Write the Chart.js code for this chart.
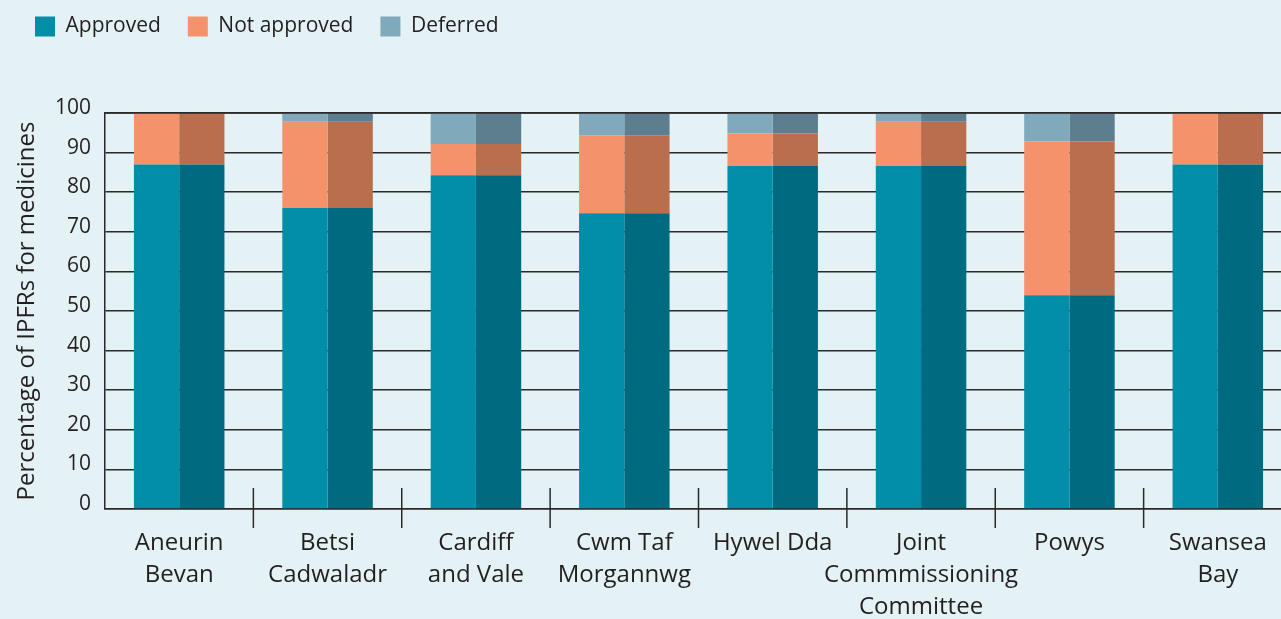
<!DOCTYPE html>
<html>
<head>
<meta charset="utf-8">
<script src="https://cdn.jsdelivr.net/npm/chart.js@4/dist/chart.umd.min.js"></script>
<style>
  html, body { margin: 0; padding: 0; background: #e4f1f5; overflow: hidden; }
  #chart { display: block; }
</style>
</head>
<body>
<canvas id="chart" width="1292" height="619" style="width:1292px;height:619px"></canvas>
<script>
// data
const categories = [
  ['Aneurin', 'Bevan'],
  ['Betsi', 'Cadwaladr'],
  ['Cardiff', 'and Vale'],
  ['Cwm Taf', 'Morgannwg'],
  ['Hywel Dda'],
  ['Joint', 'Commmissioning', 'Committee'],
  ['Powys'],
  ['Swansea', 'Bay']
];
const seriesNames = ['Approved', 'Not approved', 'Deferred'];
const approved    = [87, 76, 84.3, 74.7, 86.6, 86.6, 54, 87];
const notApproved = [13, 21.8, 7.9, 19.7, 8.2, 11.2, 38.8, 13];
const deferred    = [0, 2.2, 7.8, 5.6, 5.2, 2.2, 7.2, 0];
const yTicks = [0, 10, 20, 30, 40, 50, 60, 70, 80, 90, 100];

const lightColours = ['#028ea9', '#f4936b', '#80a9bc'];
const darkColours  = ['#006b80', '#b96e4e', '#5d7e8e'];
const INK = '#231f20';

Chart.defaults.font.family = "'Open Sans', 'Noto Sans', sans-serif";
Chart.defaults.color = INK;

// each bar is drawn as a light half and a dark half (two stacks)
const values = [approved, notApproved, deferred];
const datasets = [];
values.forEach((v, i) => {
  datasets.push({ label: seriesNames[i], data: v, backgroundColor: lightColours[i], stack: 'left' });
});
values.forEach((v, i) => {
  datasets.push({ label: seriesNames[i], data: v, backgroundColor: darkColours[i], stack: 'right' });
});

// short tick lines between the categories, and the top rule over the bars
const extrasPlugin = {
  id: 'extras',
  afterLayout(chart) {
    chart.legend.top -= 66;
    chart.legend.bottom -= 66;
  },
  afterDatasetsDraw(chart) {
    const ctx = chart.ctx;
    const x = chart.scales.x, y = chart.scales.y;
    ctx.save();
    ctx.strokeStyle = '#2a2a2a';
    ctx.lineWidth = 1.5;
    const top = y.getPixelForValue(100);
    ctx.beginPath();
    ctx.moveTo(chart.chartArea.left, top);
    ctx.lineTo(chart.chartArea.right, top);
    ctx.stroke();
    const bottom = y.getPixelForValue(0);
    for (let i = 1; i < categories.length; i++) {
      const px = (x.getPixelForValue(i - 1) + x.getPixelForValue(i)) / 2;
      ctx.beginPath();
      ctx.moveTo(px, bottom - 21);
      ctx.lineTo(px, bottom + 19);
      ctx.stroke();
    }
    ctx.restore();
  }
};

new Chart(document.getElementById('chart'), {
  type: 'bar',
  data: { labels: categories, datasets: datasets },
  plugins: [extrasPlugin],
  options: {
    responsive: false,
    animation: false,
    layout: { padding: { left: 8, top: 55, right: 0, bottom: 0 } },
    datasets: { bar: { barPercentage: 1, categoryPercentage: 0.61, borderWidth: 0 } },
    plugins: {
      tooltip: { enabled: false },
      legend: {
        position: 'top',
        align: 'start',
        labels: {
          boxWidth: 20,
          boxHeight: 20,
          padding: 27,
          font: { size: 21 },
          color: INK,
          filter: (item) => item.datasetIndex < 3
        }
      }
    },
    scales: {
      x: {
        stacked: true,
        grid: { display: false },
        border: { display: true, color: '#2a2a2a', width: 1.5 },
        ticks: {
          padding: 10,
          maxRotation: 0,
          autoSkip: false,
          font: { size: 24, lineHeight: 1.33 },
          color: INK
        },
        afterFit(scale) { scale.height = 110; }
      },
      y: {
        stacked: true,
        min: 0,
        max: 100,
        afterBuildTicks(scale) { scale.ticks = yTicks.map(v => ({ value: v })); },
        grid: { color: '#2a2a2a', lineWidth: 1.5, drawTicks: false },
        border: { display: true, color: '#2a2a2a', width: 1.5 },
        ticks: { padding: 14, labelOffset: -5, font: { size: 21 }, color: INK },
        title: {
          display: true,
          text: 'Percentage of IPFRs for medicines',
          font: { size: 24 },
          color: INK,
          padding: { top: 5, bottom: 0 }
        },
        afterFit(scale) { scale.width = 97; }
      }
    }
  }
});
</script>
</body>
</html>
